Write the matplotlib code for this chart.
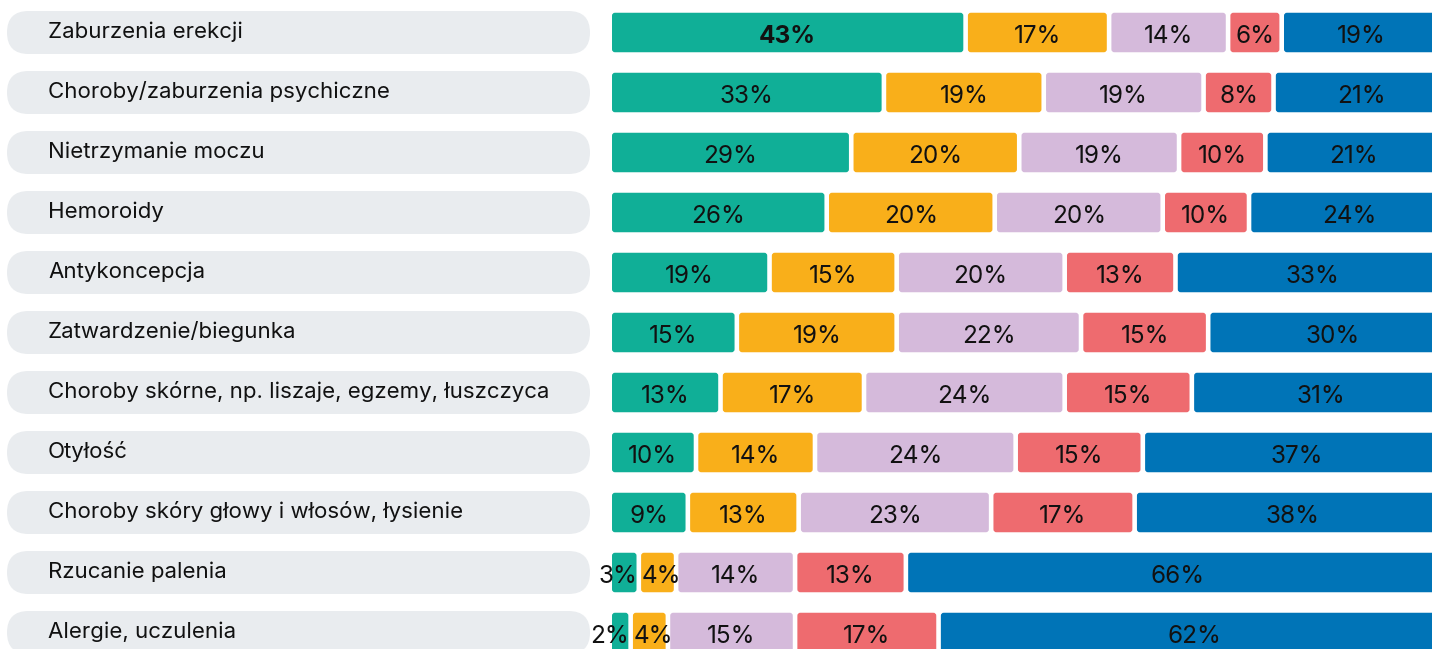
import matplotlib
matplotlib.use("Agg")
import matplotlib.pyplot as plt
from matplotlib.patches import FancyBboxPatch

# ── Data ───────────────────────────────────────────────────────────
categories = [
    "Zaburzenia erekcji",
    "Choroby/zaburzenia psychiczne",
    "Nietrzymanie moczu",
    "Hemoroidy",
    "Antykoncepcja",
    "Zatwardzenie/biegunka",
    "Choroby skórne, np. liszaje, egzemy, łuszczyca",
    "Otyłość",
    "Choroby skóry głowy i włosów, łysienie",
    "Rzucanie palenia",
    "Alergie, uczulenia",
]
s1 = [43, 33, 29, 26, 19, 15, 13, 10, 9, 3, 2]      # teal
s2 = [17, 19, 20, 20, 15, 19, 17, 14, 13, 4, 4]     # amber
s3 = [14, 19, 19, 20, 20, 22, 24, 24, 23, 14, 15]   # lilac
s4 = [6, 8, 10, 10, 13, 15, 15, 15, 17, 13, 17]     # salmon
s5 = [19, 21, 21, 24, 33, 30, 31, 37, 38, 66, 62]   # blue

series = [s1, s2, s3, s4, s5]
colors = ["#10AF97", "#F9AF1A", "#D5BADB", "#EE6B6F", "#0074B7"]
PILL = "#E9ECEF"
TXT = "#111111"

# ── Layout (pixels) ────────────────────────────────────────────────
W, H = 1432, 649
PX_PER_PCT = 8.17
BAR_X0 = 612
ROW0, ROW_STEP = 32.5, 60
BAR_H, PILL_H = 39.5, 43
GAP = 4.6 / PX_PER_PCT

fig = plt.figure(figsize=(W / 100, H / 100), dpi=100)
fig.patch.set_facecolor("white")

# left: label pills
axl = fig.add_axes([0, 0, BAR_X0 / W, 1])
axl.set_xlim(0, BAR_X0)
axl.set_ylim(H, 0)
axl.axis("off")

# right: stacked bars
axr = fig.add_axes([BAR_X0 / W, 0, 1 - BAR_X0 / W, 1])
axr.set_xlim(0, (W - BAR_X0) / PX_PER_PCT)
axr.set_ylim(H, 0)
axr.axis("off")

top_val = max(s1)

for i, cat in enumerate(categories):
    yc = ROW0 + i * ROW_STEP

    pill = FancyBboxPatch((7, yc - PILL_H / 2), 583, PILL_H,
                          boxstyle=f"round,pad=0,rounding_size={PILL_H / 2}",
                          facecolor=PILL, edgecolor="none")
    axl.add_patch(pill)
    axl.text(48, yc - 1, cat, ha="left", va="center", fontsize=16,
             family="Inter", color=TXT)

    left = 0.0
    for j, (vals, col) in enumerate(zip(series, colors)):
        v = vals[i]
        seg = FancyBboxPatch((left, yc - BAR_H / 2), v, BAR_H,
                             boxstyle="round,pad=0,rounding_size=0.36",
                             mutation_aspect=PX_PER_PCT,
                             facecolor=col, edgecolor="none")
        axr.add_patch(seg)

        if v < 5:
            if j == 0:
                tx, ha = left + v + 0.1, "right"
            else:
                tx, ha = left + 0.1, "left"
        else:
            tx, ha = left + v / 2, "center"
        axr.text(tx, yc + 4, f"{v}%", ha=ha, va="center", fontsize=17.5,
                 family="Inter", color=TXT,
                 fontweight="bold" if (j == 0 and v == top_val) else "normal",
                 clip_on=False)
        left += v + GAP

fig.savefig("out.png", dpi=100, facecolor="white")
